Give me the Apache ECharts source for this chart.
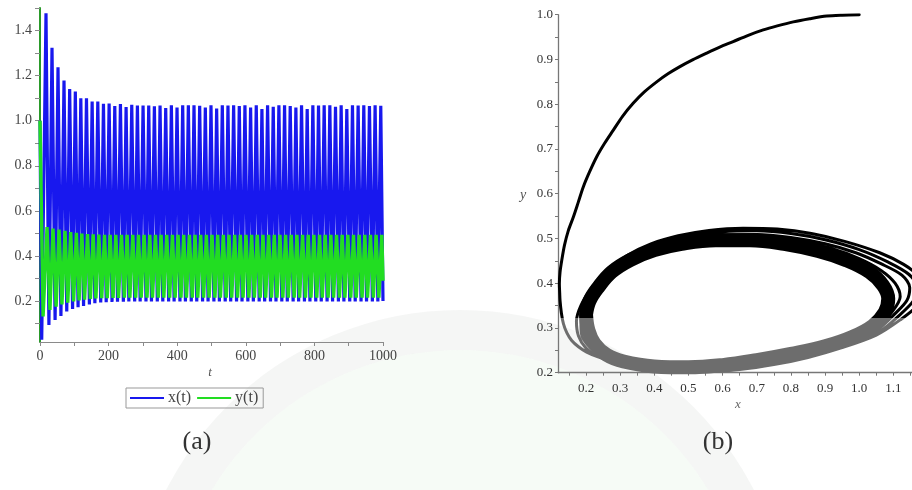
<!DOCTYPE html>
<html>
<head>
<meta charset="utf-8">
<script src="https://cdn.jsdelivr.net/npm/echarts@6/dist/echarts.min.js"></script>
<style>html,body{margin:0;padding:0;background:#fff;}#chart{width:912px;height:490px;}</style>
</head>
<body>
<div id="chart"></div>
<script>
// ---------- (a) time series: extrema of x(t) and y(t) ----------
const xStart = [0, 1.0];
const xPeakT = [17.5, 35, 52.5, 70, 86.5, 103, 119, 135.5, 152, 168.5,
  185, 201.5, 218, 234.5, 251, 267.5, 284, 300.5, 317, 333.5,
  350, 366.5, 383, 399.5, 416, 432.5, 449, 465.5, 482, 498.5,
  515, 531.5, 548, 564.5, 581, 597.5, 614, 630.5, 647, 663.5,
  680, 696.5, 713, 729.5, 746, 762.5, 779, 795.5, 812, 828.5,
  845, 861.5, 878, 894.5, 911, 927.5, 944, 960.5, 977, 993.5];
const xPeak = [1.477, 1.324, 1.237, 1.178, 1.141, 1.129, 1.100, 1.099, 1.085, 1.085,
  1.075, 1.076, 1.065, 1.074, 1.061, 1.071, 1.067, 1.067, 1.067, 1.064,
  1.067, 1.056, 1.068, 1.058, 1.068, 1.068, 1.068, 1.066, 1.058, 1.068,
  1.054, 1.068, 1.067, 1.068, 1.065, 1.068, 1.058, 1.068, 1.052, 1.068,
  1.062, 1.068, 1.068, 1.065, 1.058, 1.068, 1.052, 1.068, 1.067, 1.068,
  1.068, 1.062, 1.068, 1.052, 1.068, 1.067, 1.068, 1.065, 1.068, 1.066];
const xTroughT = [5, 26, 44, 61, 78, 95, 111, 127, 144, 160,
  177, 193, 210, 226, 243, 259, 276, 292, 309, 325,
  342, 358, 375, 391, 408, 424, 441, 457, 474, 490,
  507, 523, 540, 556, 573, 589, 606, 622, 639, 655,
  672, 688, 705, 721, 738, 754, 771, 787, 804, 820,
  837, 853, 870, 886, 903, 919, 936, 952, 969, 985, 1000];
const xTrough = [0.028, 0.094, 0.116, 0.134, 0.153, 0.164, 0.172, 0.178, 0.185, 0.190,
  0.193, 0.195, 0.196, 0.197, 0.197, 0.198, 0.198, 0.198, 0.198, 0.198,
  0.198, 0.198, 0.198, 0.198, 0.198, 0.198, 0.198, 0.198, 0.198, 0.198,
  0.198, 0.198, 0.198, 0.198, 0.198, 0.198, 0.198, 0.198, 0.198, 0.198,
  0.198, 0.198, 0.198, 0.198, 0.198, 0.198, 0.198, 0.198, 0.198, 0.198,
  0.198, 0.198, 0.198, 0.198, 0.198, 0.198, 0.198, 0.198, 0.198, 0.198, 0.200];

const yStart = [0, 1.0];
const yEnd = [1000, 0.29];
const yPeakT = [20.5, 38, 55.5, 73, 89.5, 106, 122, 138.5, 155, 171.5,
  188, 204.5, 221, 237.5, 254, 270.5, 287, 303.5, 320, 336.5,
  353, 369.5, 386, 402.5, 419, 435.5, 452, 468.5, 485, 501.5,
  518, 534.5, 551, 567.5, 584, 600.5, 617, 633.5, 650, 666.5,
  683, 699.5, 716, 732.5, 749, 765.5, 782, 798.5, 815, 831.5,
  848, 864.5, 881, 897.5, 914, 930.5, 947, 963.5, 980, 996.5];
const yPeak = [0.528, 0.521, 0.517, 0.511, 0.506, 0.502, 0.499, 0.497, 0.496, 0.495,
  0.494, 0.494, 0.494, 0.494, 0.494, 0.494, 0.494, 0.494, 0.494, 0.494,
  0.494, 0.494, 0.494, 0.494, 0.494, 0.494, 0.494, 0.494, 0.494, 0.494,
  0.494, 0.494, 0.494, 0.494, 0.494, 0.494, 0.494, 0.494, 0.494, 0.494,
  0.494, 0.494, 0.494, 0.494, 0.494, 0.494, 0.494, 0.494, 0.494, 0.494,
  0.494, 0.494, 0.494, 0.494, 0.494, 0.494, 0.494, 0.494, 0.494, 0.494];
const yTroughT = [9, 29, 47, 64, 81, 98, 114, 130, 147, 163,
  180, 196, 213, 229, 246, 262, 279, 295, 312, 328,
  345, 361, 378, 394, 411, 427, 444, 460, 477, 493,
  510, 526, 543, 559, 576, 592, 609, 625, 642, 658,
  675, 691, 708, 724, 741, 757, 774, 790, 807, 823,
  840, 856, 873, 889, 906, 922, 939, 955, 972, 988];
const yTrough = [0.131, 0.160, 0.175, 0.185, 0.193, 0.198, 0.203, 0.206, 0.209, 0.211,
  0.212, 0.213, 0.214, 0.214, 0.215, 0.215, 0.215, 0.215, 0.215, 0.215,
  0.215, 0.215, 0.215, 0.215, 0.215, 0.215, 0.215, 0.215, 0.215, 0.215,
  0.215, 0.215, 0.215, 0.215, 0.215, 0.215, 0.215, 0.215, 0.215, 0.215,
  0.215, 0.215, 0.215, 0.215, 0.215, 0.215, 0.215, 0.215, 0.215, 0.215,
  0.215, 0.215, 0.215, 0.215, 0.215, 0.215, 0.215, 0.215, 0.215, 0.215];

// tick labels (a)
const tLabelVals = [0, 200, 400, 600, 800, 1000];
const tTickVals = [0, 100, 200, 300, 400, 500, 600, 700, 800, 900, 1000];
const aYLabelVals = [0.2, 0.4, 0.6, 0.8, 1.0, 1.2, 1.4];
const aYTickVals = [0.1, 0.2, 0.3, 0.4, 0.5, 0.6, 0.7, 0.8, 0.9, 1.0, 1.1, 1.2, 1.3, 1.4, 1.5];

// ---------- (b) phase portrait ----------
const pathX = [1.000, 0.950, 0.905, 0.855, 0.807, 0.760, 0.719, 0.675, 0.631, 0.590,
  0.553, 0.512, 0.475, 0.440, 0.407, 0.370, 0.338, 0.307, 0.280, 0.254,
  0.231, 0.210, 0.192, 0.177, 0.163, 0.148, 0.137, 0.129, 0.124, 0.122,
  0.123, 0.124, 0.128, 0.134, 0.144, 0.158, 0.178, 0.202, 0.233, 0.270,
  0.35, 0.45, 0.55, 0.65, 0.75, 0.85, 0.95, 1.05, 1.12, 1.17, 1.19, 1.175, 1.13, 1.06, 0.96, 0.86, 0.76, 0.66, 0.56, 0.47,
  0.39, 0.32, 0.26, 0.215, 0.185, 0.172, 0.178, 0.200, 0.240, 0.300, 0.380, 0.470, 0.570,
  0.670, 0.770, 0.870, 0.970, 1.060, 1.120, 1.160, 1.170, 1.145, 1.085, 1.000, 0.900, 0.800, 0.700, 0.600, 0.500,
  0.420, 0.350, 0.290, 0.240, 0.205, 0.185, 0.186, 0.205, 0.245, 0.305, 0.390, 0.480, 0.580,
  0.680, 0.780, 0.880, 0.980, 1.055, 1.105, 1.140, 1.148, 1.125, 1.065, 0.990, 0.900, 0.800, 0.700, 0.600, 0.500,
  0.420, 0.350, 0.295, 0.250, 0.215, 0.195, 0.195, 0.212, 0.250, 0.310, 0.400, 0.500, 0.600,
  0.700, 0.800, 0.900, 0.990, 1.060, 1.100, 1.120, 1.105, 1.065, 1.000, 0.920, 0.820, 0.720, 0.620, 0.520,
  0.440, 0.370, 0.310, 0.262, 0.228, 0.207];
const pathY = [1.000, 0.999, 0.997, 0.991, 0.984, 0.975, 0.966, 0.954, 0.940, 0.927,
  0.914, 0.899, 0.884, 0.868, 0.850, 0.827, 0.802, 0.773, 0.742, 0.712,
  0.682, 0.648, 0.615, 0.580, 0.548, 0.517, 0.485, 0.451, 0.425, 0.399,
  0.378, 0.361, 0.333, 0.309, 0.289, 0.272, 0.258, 0.246, 0.236, 0.227,
  0.212, 0.204, 0.202, 0.207, 0.218, 0.234, 0.256, 0.284, 0.318, 0.350, 0.385, 0.415, 0.442, 0.468, 0.493, 0.511, 0.521, 0.523, 0.518, 0.506,
  0.488, 0.462, 0.428, 0.388, 0.350, 0.315, 0.282, 0.255, 0.235, 0.220, 0.208, 0.203, 0.205,
  0.212, 0.224, 0.241, 0.264, 0.292, 0.330, 0.362, 0.390, 0.420, 0.447, 0.475, 0.497, 0.511, 0.517, 0.515, 0.505,
  0.489, 0.466, 0.435, 0.398, 0.360, 0.325, 0.290, 0.262, 0.240, 0.224, 0.212, 0.207, 0.208,
  0.216, 0.229, 0.246, 0.269, 0.297, 0.332, 0.362, 0.390, 0.418, 0.443, 0.468, 0.488, 0.502, 0.509, 0.508, 0.499,
  0.484, 0.462, 0.433, 0.398, 0.362, 0.328, 0.295, 0.267, 0.243, 0.227, 0.215, 0.211, 0.214,
  0.224, 0.238, 0.256, 0.279, 0.308, 0.340, 0.370, 0.400, 0.428, 0.455, 0.477, 0.493, 0.501, 0.501, 0.494,
  0.480, 0.459, 0.432, 0.400, 0.365, 0.330];
const cycleX = [0.200, 0.207, 0.225, 0.260, 0.310, 0.400, 0.500, 0.600, 0.700, 0.800, 0.900, 0.980, 1.040, 1.075, 1.085,
  1.070, 1.030, 0.960, 0.880, 0.780, 0.680, 0.580, 0.480, 0.400, 0.330, 0.275, 0.235, 0.210, 0.200];
const cycleY = [0.330, 0.295, 0.265, 0.240, 0.225, 0.214, 0.212, 0.217, 0.228, 0.242, 0.259, 0.280, 0.305, 0.335, 0.365,
  0.395, 0.425, 0.452, 0.472, 0.488, 0.496, 0.496, 0.488, 0.474, 0.452, 0.425, 0.390, 0.360, 0.330];
// level below which the portrait is drawn grey
const greyBelowY = 0.323;

// tick labels (b)
const bXLabelVals = [0.2, 0.3, 0.4, 0.5, 0.6, 0.7, 0.8, 0.9, 1.0, 1.1];
const bXTickVals = [0.15, 0.2, 0.25, 0.3, 0.35, 0.4, 0.45, 0.5, 0.55, 0.6, 0.65, 0.7, 0.75, 0.8, 0.85, 0.9, 0.95, 1.0, 1.05, 1.1, 1.15];
const bYLabelVals = [0.2, 0.3, 0.4, 0.5, 0.6, 0.7, 0.8, 0.9, 1.0];
const bYTickVals = [0.2, 0.25, 0.3, 0.35, 0.4, 0.45, 0.5, 0.55, 0.6, 0.65, 0.7, 0.75, 0.8, 0.85, 0.9, 0.95, 1.0];

// ---------- build series data ----------
const xData = [xStart];
for (let i = 0; i < xPeakT.length; i++) {
  xData.push([xTroughT[i], xTrough[i]]);
  xData.push([xPeakT[i], xPeak[i]]);
}
xData.push([xTroughT[xTroughT.length - 1], xTrough[xTrough.length - 1]]);

const yData = [yStart];
for (let i = 0; i < yPeakT.length; i++) {
  yData.push([yTroughT[i], yTrough[i]]);
  yData.push([yPeakT[i], yPeak[i]]);
}
yData.push(yEnd);

const pathData = pathX.map((v, i) => [v, pathY[i]]);
const cycleData = cycleX.map((v, i) => [v, cycleY[i]]);

const serif = '"Liberation Serif", "DejaVu Serif", serif';
const axisGray = '#8a8a8a';
const fmt1 = v => v.toFixed(1);

const chart = echarts.init(document.getElementById('chart'), null, {renderer: 'canvas'});
chart.setOption({
  animation: false,
  backgroundColor: '#ffffff',
  grid: [
    {left: 40, top: 8, width: 343, height: 334},
    {left: 558, top: 14.7, width: 354, height: 358}
  ],
  legend: {
    data: ['x(t)', 'y(t)'],
    left: 126, top: 388,
    itemWidth: 34, itemHeight: 2, itemGap: 6,
    icon: 'rect',
    padding: [2, 5, 2, 4],
    borderColor: '#999', borderWidth: 1,
    textStyle: {fontFamily: serif, fontSize: 16, color: '#444', padding: [0, 0, 0, -1]}
  },
  xAxis: [
    {
      gridIndex: 0, type: 'value', min: 0, max: 1000, interval: 200,
      axisLine: {onZero: false, lineStyle: {color: axisGray, width: 1}},
      axisTick: {customValues: tTickVals, length: 4, lineStyle: {color: axisGray}},
      axisLabel: {customValues: tLabelVals, formatter: v => String(v), color: '#444', fontFamily: serif, fontSize: 14, margin: 7},
      splitLine: {show: false}
    },
    {
      gridIndex: 1, type: 'value', min: 0.118, max: 1.1546,
      axisLine: {onZero: false, lineStyle: {color: '#777', width: 1.3}},
      axisTick: {customValues: bXTickVals, length: 3, lineStyle: {color: '#777'}},
      axisLabel: {customValues: bXLabelVals, formatter: fmt1, color: '#333', fontFamily: serif, fontSize: 13, margin: 9},
      splitLine: {show: false}
    }
  ],
  yAxis: [
    {
      gridIndex: 0, type: 'value', min: 0.018, max: 1.5,
      axisLine: {show: true, onZero: false, lineStyle: {color: '#2a9a2a', width: 2}},
      axisTick: {show: true, customValues: aYTickVals, length: 5, lineStyle: {color: axisGray}},
      axisLabel: {customValues: aYLabelVals, formatter: fmt1, color: '#444', fontFamily: serif, fontSize: 14, margin: 8},
      splitLine: {show: false}
    },
    {
      gridIndex: 1, type: 'value', min: 0.2, max: 1.0,
      axisLine: {show: true, onZero: false, lineStyle: {color: '#777', width: 1.3}},
      axisTick: {show: true, customValues: bYTickVals, length: 3, lineStyle: {color: '#777'}},
      axisLabel: {customValues: bYLabelVals, formatter: fmt1, color: '#333', fontFamily: serif, fontSize: 13, margin: 5},
      splitLine: {show: false}
    }
  ],
  series: [
    {
      name: 'x(t)', type: 'line', xAxisIndex: 0, yAxisIndex: 0, data: xData,
      showSymbol: false, color: '#1818ee', lineStyle: {width: 3.2, color: '#1818ee'}
    },
    {
      name: 'y(t)', type: 'line', xAxisIndex: 0, yAxisIndex: 0, data: yData,
      showSymbol: false, color: '#22dd22', lineStyle: {width: 3.4, color: '#22dd22'}
    },
    {
      type: 'line', xAxisIndex: 1, yAxisIndex: 1, data: pathData, smooth: 0.3,
      showSymbol: false, lineStyle: {width: 3, cap: 'round', join: 'round', color: '#000'}
    },
    {
      type: 'line', xAxisIndex: 1, yAxisIndex: 1, data: cycleData, smooth: 0.4,
      showSymbol: false, lineStyle: {width: 14, cap: 'round', join: 'round', color: '#000'}
    }
  ],
  graphic: [
    {type: 'ring', z: -10, shape: {cx: 460, cy: 640, r: 330, r0: 290}, style: {fill: 'rgba(200,205,200,0.18)'}, silent: true},
    {type: 'circle', z: -10, shape: {cx: 460, cy: 640, r: 290}, style: {fill: 'rgba(215,238,215,0.22)'}, silent: true},
    {type: 'text', x: 210, y: 373, style: {text: 't', font: 'italic 13px ' + serif, fill: '#555', textAlign: 'center', textVerticalAlign: 'middle'}},
    {type: 'text', x: 523, y: 195, style: {text: 'y', font: 'italic 14px ' + serif, fill: '#555', textAlign: 'center', textVerticalAlign: 'middle'}},
    {type: 'text', x: 738, y: 405, style: {text: 'x', font: 'italic 13px ' + serif, fill: '#666', textAlign: 'center', textVerticalAlign: 'middle'}},
    {type: 'text', x: 197, y: 442, style: {text: '(a)', font: '26px ' + serif, fill: '#333', textAlign: 'center', textVerticalAlign: 'middle'}},
    {type: 'text', x: 718, y: 442, style: {text: '(b)', font: '26px ' + serif, fill: '#333', textAlign: 'center', textVerticalAlign: 'middle'}}
  ]
});

// grey/black split of the phase portrait, positioned through the axis scale
const splitPx = chart.convertToPixel({gridIndex: 1}, [0.5, greyBelowY])[1];
const H = 490;
const makeGrad = () => new echarts.graphic.LinearGradient(0, 0, 0, H, [
  {offset: 0, color: '#000000'},
  {offset: splitPx / H, color: '#000000'},
  {offset: splitPx / H, color: '#6d6d6d'},
  {offset: 1, color: '#6d6d6d'}
], true);
chart.setOption({
  series: [{}, {}, {lineStyle: {color: makeGrad()}}, {lineStyle: {color: makeGrad()}}]
});
</script>
</body>
</html>
